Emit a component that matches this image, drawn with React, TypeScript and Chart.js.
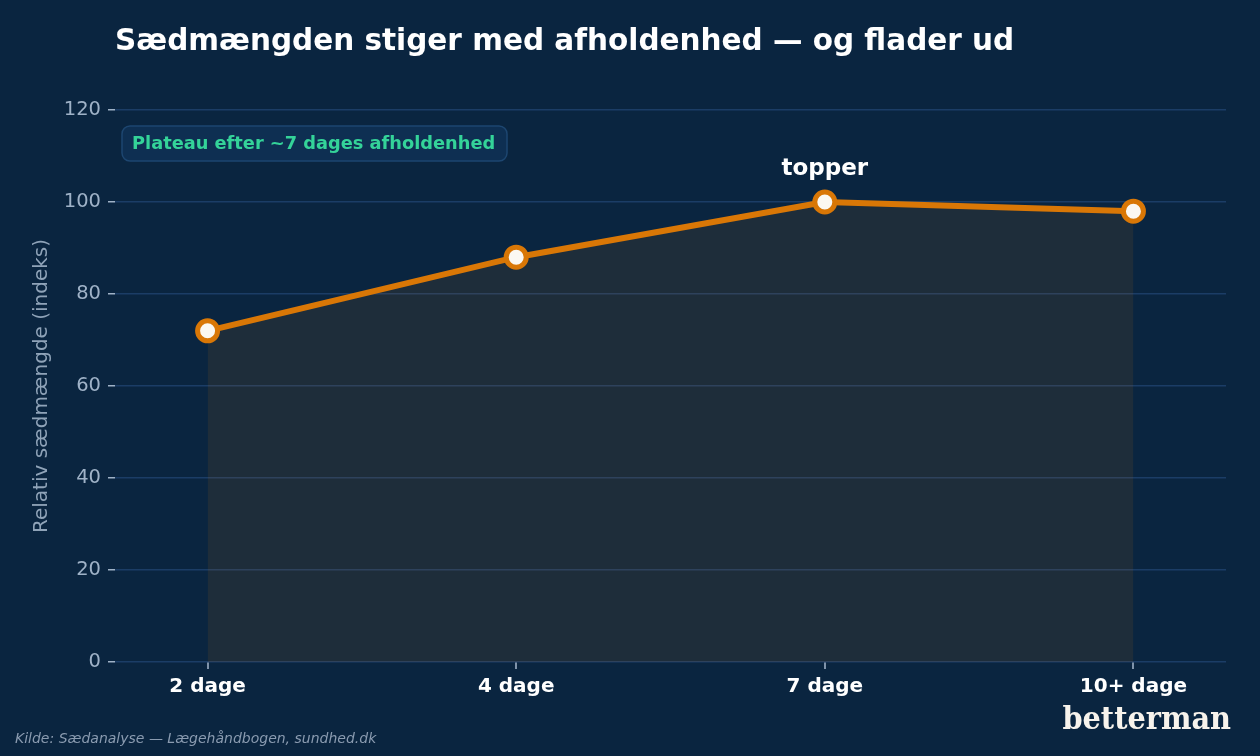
import React, { useEffect, useRef } from "react";
import { Chart, registerables } from "chart.js";

Chart.register(...registerables);

const categories = ["2 dage", "4 dage", "7 dage", "10+ dage"];
const values = [72, 88, 100, 98];
const yTicks = [0, 20, 40, 60, 80, 100, 120];

const TITLE = "Sædmængden stiger med afholdenhed — og flader ud";
const Y_TITLE = "Relativ sædmængde (indeks)";
const NOTE = "Plateau efter ~7 dages afholdenhed";
const PEAK_LABEL = "topper";
const SOURCE = "Kilde: Sædanalyse — Lægehåndbogen, sundhed.dk";
const LOGO = "betterman";

const BG = "#0a2540";
const FONT = "'DejaVu Sans', sans-serif";

export default function App() {
  const ref = useRef<HTMLCanvasElement | null>(null);

  useEffect(() => {
    document.body.style.margin = "0";
    const canvas = ref.current!;
    const overlay = {
      id: "overlay",
      beforeDraw(chart: any) {
        const ctx = chart.ctx;
        ctx.save();
        ctx.fillStyle = BG;
        ctx.fillRect(0, 0, chart.width, chart.height);
        ctx.restore();
      },
      afterDraw(chart: any) {
        const ctx = chart.ctx;
        const xs = chart.scales.x;
        const ys = chart.scales.y;
        ctx.save();
        // title
        ctx.fillStyle = "#ffffff";
        ctx.font = `bold 29.5px ${FONT}`;
        ctx.textAlign = "left";
        ctx.textBaseline = "middle";
        ctx.fillText(TITLE, 115, 42);
        // y title
        ctx.save();
        ctx.translate(42, (chart.chartArea.top + chart.chartArea.bottom) / 2);
        ctx.rotate(-Math.PI / 2);
        ctx.fillStyle = "#8fa3b8";
        ctx.font = `20px ${FONT}`;
        ctx.textAlign = "center";
        ctx.fillText(Y_TITLE, 0, 0);
        ctx.restore();
        // note box
        const bx = 122, by = 126, bw = 385, bh = 35;
        ctx.beginPath();
        (ctx as any).roundRect(bx, by, bw, bh, 8);
        ctx.fillStyle = "#0e2f52";
        ctx.fill();
        ctx.strokeStyle = "#1d4670";
        ctx.lineWidth = 1.5;
        ctx.stroke();
        ctx.fillStyle = "#34d399";
        ctx.font = `bold 17.8px ${FONT}`;
        ctx.textAlign = "left";
        ctx.textBaseline = "middle";
        ctx.fillText(NOTE, bx + 10, by + bh / 2 + 0.5);
        // peak label
        const pi = values.indexOf(Math.max(...values));
        ctx.fillStyle = "#ffffff";
        ctx.font = `bold 23px ${FONT}`;
        ctx.textAlign = "center";
        ctx.fillText(PEAK_LABEL, xs.getPixelForValue(pi), ys.getPixelForValue(values[pi]) - 33);
        // source
        ctx.fillStyle = "#8a9bb0";
        ctx.font = `italic 14px ${FONT}`;
        ctx.textAlign = "left";
        ctx.textBaseline = "alphabetic";
        ctx.fillText(SOURCE, 15, 743);
        // logo
        ctx.fillStyle = "#f7f3ec";
        ctx.font = `bold 32px 'DejaVu Serif Condensed', 'DejaVu Serif', serif`;
        ctx.textAlign = "right";
        ctx.fillText(LOGO, 1231, 729);
        ctx.restore();
      },
    };

    const chart = new Chart(canvas, {
      type: "line",
      data: {
        datasets: [
          {
            data: values.map((v, i) => ({ x: i, y: v })),
            borderColor: "#d97706",
            borderWidth: 6,
            backgroundColor: "rgba(217,119,6,0.1)",
            fill: "origin",
            tension: 0,
            pointRadius: 10,
            pointBorderWidth: 5,
            pointBackgroundColor: "#fbf8f2",
            pointBorderColor: "#d97706",
            pointHoverRadius: 10,
          },
        ],
      },
      options: {
        responsive: false,
        animation: false,
        layout: { padding: { top: 110, right: 34, bottom: 0, left: 0 } },
        plugins: { legend: { display: false }, tooltip: { enabled: false } },
        scales: {
          x: {
            type: "linear",
            min: -0.3,
            max: categories.length - 1 + 0.3,
            afterBuildTicks(s: any) {
              s.ticks = categories.map((_, i) => ({ value: i }));
            },
            afterFit(s: any) {
              s.height = 94;
            },
            ticks: {
              callback: (v: any) => categories[v as number] ?? "",
              color: "#ffffff",
              font: { family: FONT, size: 20, weight: "bold" },
              padding: 6,
              maxRotation: 0,
              autoSkip: false,
            },
            grid: {
              drawOnChartArea: false,
              drawTicks: true,
              tickLength: 7,
              tickColor: "#7f93aa",
              lineWidth: 2,
            },
            border: { display: false },
          },
          y: {
            min: 0,
            max: 120,
            afterBuildTicks(s: any) {
              s.ticks = yTicks.map((v) => ({ value: v }));
            },
            afterFit(s: any) {
              s.width = 115;
            },
            ticks: {
              color: "#9fb2c7",
              font: { family: FONT, size: 19.5 },
              padding: 7,
            },
            grid: {
              color: "#1b3d66",
              lineWidth: 1.5,
              tickLength: 7,
              tickColor: "#9fb2c7",
            },
            border: { display: false },
          },
        },
      },
      plugins: [overlay],
    });
    return () => chart.destroy();
  }, []);

  return (
    <div style={{ width: 1260, height: 756 }}>
      <canvas ref={ref} width={1260} height={756} style={{ display: "block" }} />
    </div>
  );
}
